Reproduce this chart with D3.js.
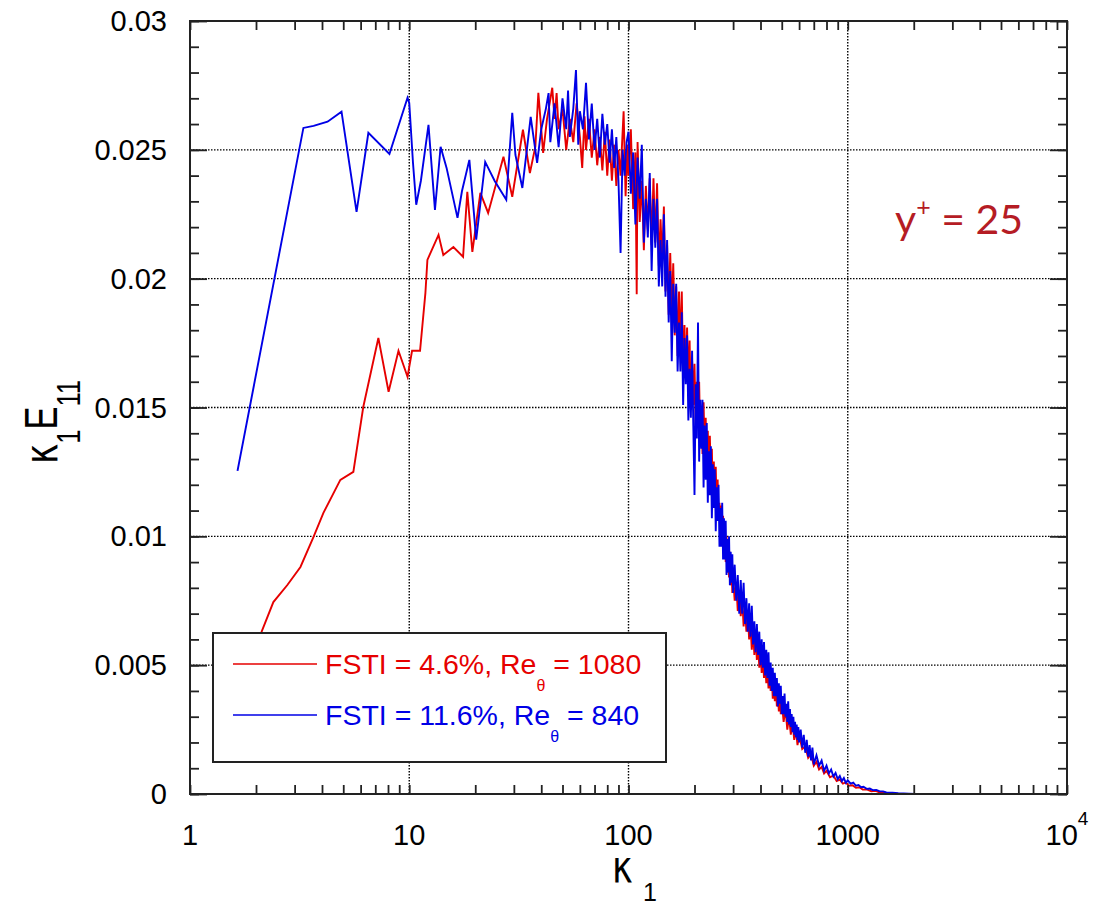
<!DOCTYPE html>
<html>
<head>
<meta charset="utf-8">
<script src="https://cdn.jsdelivr.net/npm/d3@7"></script>
<style>
  body { margin: 0; background: #fff; }
  svg { display: block; font-family: "Liberation Sans", Arial, sans-serif; }
</style>
</head>
<body>
<svg id="chart" width="1097" height="909"></svg>
<script>
// ---- data ----
var kTicks = [1, 10, 100, 1000, 10000]
var kTickLabels = ["1", "10", "100", "1000", "10"]
var eTicks = [0, 0.005, 0.01, 0.015, 0.02, 0.025, 0.03]
var eTickLabels = ["0", "0.005", "0.01", "0.015", "0.02", "0.025", "0.03"]
var gridK = [10, 100, 1000]
var gridE = [0.005, 0.01, 0.015, 0.02, 0.025]

var seriesNames = ["FSTI = 4.6%, Re", "FSTI = 11.6%, Re"]
var seriesRe = ["1080", "840"]

// FSTI = 4.6 %, Re_theta = 1080   [kappa1, kappa1*E11]
var redLow = [
  [1.647, 0.0042], [2.12, 0.00629], [2.40, 0.00745], [2.78, 0.00811], [3.19, 0.00881],
  [3.66, 0.00998], [4.06, 0.01091], [4.85, 0.01219], [5.56, 0.0125], [6.17, 0.01502],
  [7.23, 0.0177], [8.05, 0.01561], [8.93, 0.0172], [9.82, 0.01619], [10.3, 0.0172],
  [11.2, 0.0172], [11.85, 0.01945], [12.1, 0.02073], [13.6, 0.0217], [14.3, 0.02092],
  [15.9, 0.02123], [17.6, 0.02085], [18.4, 0.02337], [19.4, 0.02104], [21.1, 0.02333],
  [22.9, 0.02255], [26.9, 0.02473], [29.5, 0.02318], [33.0, 0.02578], [35.5, 0.0241],
  [37.6, 0.02512], [38.8, 0.02721], [40.8, 0.02488], [42.5, 0.0262], [44.9, 0.02741]
]
var redMid = [
  [46, 0.0262], [47, 0.0272], [48, 0.0258], [50, 0.0266], [52, 0.0250], [54, 0.0262],
  [56, 0.0253], [58, 0.0268], [60, 0.0255], [61.5, 0.0243], [63, 0.0263], [64, 0.0250],
  [66, 0.0262], [68, 0.0247], [70, 0.0258], [72, 0.0244], [74, 0.0255], [76, 0.0242],
  [78, 0.0257], [80, 0.0240], [82, 0.0254], [84, 0.0238], [86, 0.0252], [88, 0.0236],
  [90, 0.0250], [92, 0.0240], [95, 0.0265], [97, 0.0232], [99, 0.0252]
]
var redBand = [
  [100, 0.0240], [102.5, 0.0258], [105, 0.0227], [107.5, 0.0249], [109, 0.0194], [110, 0.0253],
  [112.5, 0.0222], [115, 0.0238], [117.5, 0.0211], [120, 0.0236], [122.5, 0.0219], [125, 0.0239],
  [127.5, 0.0213], [130, 0.0239], [132.5, 0.0214], [135, 0.0237], [137.5, 0.0205], [140, 0.0223],
  [142.5, 0.0207], [145, 0.0228], [147.5, 0.0195], [150, 0.0213], [152.5, 0.0186], [155, 0.0210],
  [157.5, 0.0187], [160, 0.0206], [162.5, 0.0178], [165, 0.0197], [167.5, 0.0170], [170, 0.0195],
  [172.5, 0.0172], [175, 0.0195], [177.5, 0.0162], [180, 0.0182], [182.5, 0.0161], [185, 0.0181],
  [187.5, 0.0159], [190, 0.0176], [192.5, 0.0149], [195, 0.0168], [197.5, 0.0151], [200, 0.0167],
  [202.5, 0.0143], [205, 0.0160], [207.5, 0.0142], [210, 0.0160], [212.5, 0.0136], [215, 0.0150],
  [217.5, 0.0132], [220, 0.0152], [222.5, 0.0132], [225, 0.0146], [227.5, 0.0125], [230, 0.0141],
  [232.5, 0.0123], [235, 0.0139], [237.5, 0.0121], [240, 0.0134], [242.5, 0.0114], [245, 0.0129],
  [247.5, 0.0113], [250, 0.0127], [252.5, 0.0110], [255, 0.0122], [257.5, 0.0107], [260, 0.0113],
  [262.5, 0.0100], [265, 0.0112], [267.5, 0.0097], [270, 0.0108], [272.5, 0.0093], [275, 0.0103],
  [277.5, 0.0090], [280, 0.0100], [282.5, 0.0086], [285, 0.0097], [287.5, 0.0084], [290, 0.0094],
  [292.5, 0.0081], [295, 0.0090], [297.5, 0.0078], [300, 0.0084]
]
var redHigh = [
  [305, 0.0075], [310, 0.0082], [315, 0.0071], [320, 0.0078], [325, 0.0069], [330, 0.0076],
  [335, 0.0065], [340, 0.0072], [345, 0.0063], [350, 0.0070], [355, 0.0060], [360, 0.0066],
  [365, 0.0056], [370, 0.0064], [375, 0.0054], [380, 0.0062], [385, 0.0052], [390, 0.0059],
  [395, 0.0049], [400, 0.0056], [405, 0.0047], [410, 0.0054], [415, 0.0045], [420, 0.0052],
  [425, 0.0043], [430, 0.0050], [435, 0.0041], [440, 0.0048], [445, 0.0040], [450, 0.0046],
  [455, 0.0037], [460, 0.0043], [465, 0.0036], [470, 0.0042], [475, 0.0034], [480, 0.0039],
  [485, 0.0032], [490, 0.0038], [495, 0.0031], [500, 0.0036], [510, 0.0028], [520, 0.0033],
  [530, 0.0025], [540, 0.0030], [550, 0.0023], [560, 0.0028], [570, 0.0021], [580, 0.0025],
  [590, 0.0019], [600, 0.0023], [620, 0.00175], [640, 0.00185], [660, 0.0014], [680, 0.00155],
  [700, 0.0011], [720, 0.00125], [740, 0.00095], [760, 0.00105], [780, 0.0008], [800, 0.0009],
  [830, 0.00065], [860, 0.00072], [890, 0.0005], [920, 0.00056], [950, 0.0004], [980, 0.00045],
  [1010, 0.00032], [1050, 0.00034], [1090, 0.00024], [1130, 0.00026], [1170, 0.00017],
  [1220, 0.00018], [1280, 0.00011], [1340, 0.00012], [1400, 0.00006], [1480, 0.00005],
  [1560, 0.00002], [1620, 0]
]

// FSTI = 11.6 %, Re_theta = 840
var blueLow = [
  [1.647, 0.01254], [3.29, 0.02585], [3.66, 0.02593], [4.24, 0.02609], [4.91, 0.02648],
  [5.75, 0.02259], [6.51, 0.02566], [8.12, 0.02484], [9.82, 0.02702], [10.0, 0.02682],
  [10.4, 0.0245], [10.76, 0.02287], [11.3, 0.0238], [12.24, 0.02597], [13.1, 0.02267],
  [13.9, 0.02512], [14.8, 0.0243], [16.6, 0.02236], [17.4, 0.0234], [18.8, 0.02461],
  [20.2, 0.02151], [22.2, 0.02453], [24.5, 0.0238], [27.7, 0.02306], [29.5, 0.02644],
  [30.5, 0.0248], [32.8, 0.02352], [35.8, 0.02628], [38.3, 0.02449], [40, 0.0258]
]
var blueMid = [
  [42, 0.0266], [43.2, 0.0272], [44, 0.0253], [46, 0.0268], [48, 0.0251], [50, 0.0270],
  [52, 0.0258], [53, 0.0273], [54, 0.0255], [56, 0.0266], [57.6, 0.0281], [59, 0.0252],
  [60, 0.0265], [62, 0.0258], [64, 0.0276], [66, 0.0254], [68, 0.0268], [70, 0.0250],
  [72, 0.0262], [74, 0.0247], [76, 0.0264], [78, 0.0252], [80, 0.0260], [82, 0.0245],
  [84, 0.0258], [86, 0.0243], [88, 0.0255], [90, 0.0238], [92, 0.0210], [94, 0.0250],
  [96, 0.0240], [98, 0.0253]
]
var blueBand = [
  [100, 0.0257], [102.5, 0.0233], [105, 0.0249], [107.5, 0.0221], [110, 0.0247], [112.5, 0.0231],
  [115, 0.0252], [117.5, 0.0214], [120, 0.0231], [122.5, 0.0216], [125, 0.0241], [127.5, 0.0203],
  [130, 0.0231], [132.5, 0.0212], [135, 0.0231], [137.5, 0.0197], [140, 0.0215], [142.5, 0.0197],
  [145, 0.0225], [147.5, 0.0193], [150, 0.0215], [152.5, 0.0183], [155, 0.0203], [157.5, 0.0168],
  [160, 0.0198], [162.5, 0.0179], [165, 0.0198], [167.5, 0.0164], [170, 0.0183], [172.5, 0.0164],
  [175, 0.0187], [177.5, 0.0151], [180, 0.0177], [182.5, 0.0159], [185, 0.0178], [187.5, 0.0145],
  [190, 0.0165], [192.5, 0.0146], [195, 0.0172], [197.5, 0.0143], [200, 0.0116], [202.5, 0.0159],
  [205, 0.0138], [207.5, 0.0183], [210, 0.0129], [212.5, 0.0153], [215, 0.0134], [217.5, 0.0153],
  [220, 0.0119], [222.5, 0.0143], [225, 0.0122], [227.5, 0.0144], [230, 0.0113], [232.5, 0.0133],
  [235, 0.0116], [237.5, 0.0135], [240, 0.0107], [242.5, 0.0128], [245, 0.0111], [247.5, 0.0126],
  [250, 0.0102], [252.5, 0.0119], [255, 0.0106], [257.5, 0.0120], [260, 0.0096], [262.5, 0.0111],
  [265, 0.0096], [267.5, 0.0113], [270, 0.0091], [272.5, 0.0107], [275, 0.0091], [277.5, 0.0106],
  [280, 0.0085], [282.5, 0.0099], [285, 0.0086], [287.5, 0.0100], [290, 0.0081], [292.5, 0.0094],
  [295, 0.0082], [297.5, 0.0093], [300, 0.0078]
]
var blueHigh = [
  [305, 0.0089], [310, 0.0075], [315, 0.0085], [320, 0.0070], [325, 0.0083], [330, 0.0070],
  [335, 0.0082], [340, 0.0066], [345, 0.0076], [350, 0.0063], [355, 0.0074], [360, 0.0061],
  [365, 0.0073], [370, 0.0058], [375, 0.0067], [380, 0.0055], [385, 0.0066], [390, 0.0054],
  [395, 0.0063], [400, 0.0050], [405, 0.0060], [410, 0.0049], [415, 0.0059], [420, 0.0046],
  [425, 0.0056], [430, 0.0045], [435, 0.0055], [440, 0.0042], [445, 0.0051], [450, 0.0040],
  [455, 0.0049], [460, 0.0038], [465, 0.0047], [470, 0.0038], [475, 0.0045], [480, 0.0034],
  [485, 0.0043], [490, 0.0035], [495, 0.0042], [500, 0.0031], [505, 0.0038], [510, 0.0031],
  [515, 0.0039], [520, 0.0030], [525, 0.0035], [530, 0.0028], [535, 0.0036], [540, 0.0027],
  [545, 0.0033], [550, 0.0026], [555, 0.0031], [560, 0.0024], [565, 0.0030], [570, 0.0023],
  [575, 0.0028], [580, 0.0022], [585, 0.0027], [590, 0.0021], [595, 0.0026], [600, 0.0020],
  [610, 0.0025], [620, 0.0018], [630, 0.0023], [640, 0.0016], [650, 0.0021], [660, 0.00145],
  [670, 0.0019], [680, 0.0013], [690, 0.0018], [700, 0.00115], [720, 0.0015], [740, 0.0011],
  [760, 0.0013], [780, 0.0009], [800, 0.0011], [820, 0.0008], [840, 0.00095], [860, 0.00068],
  [880, 0.00082], [900, 0.00058], [920, 0.0007], [940, 0.0005], [960, 0.00062], [980, 0.00043],
  [1000, 0.00053], [1030, 0.0004], [1060, 0.00044], [1090, 0.00032], [1120, 0.00035],
  [1150, 0.00026], [1180, 0.00028], [1220, 0.0002], [1260, 0.00021], [1300, 0.00015],
  [1350, 0.00016], [1400, 0.0001], [1450, 0.0001], [1500, 0.00006], [1600, 0.00005],
  [1700, 0.00003], [1800, 0.00002], [1900, 0.00001], [2040, 0]
]

var red = redLow.concat(redMid, redBand, redHigh)
var blue = blueLow.concat(blueMid, blueBand, blueHigh)
var colRed = "#e60000", colBlue = "#0000e6"

///////
var svg = d3.select("#chart")
var pLeft = 190, pRight = 1067, pTop = 21, pBottom = 794

var x = d3.scaleLog().domain([1, 1e4]).range([pLeft, pRight])
var y = d3.scaleLinear().domain([0, 0.03]).range([pBottom, pTop])

// dotted grid
svg.append("g").selectAll("line").data(gridK).enter().append("line")
  .attr("x1", d => x(d)).attr("x2", d => x(d))
  .attr("y1", pTop).attr("y2", pBottom)
  .attr("stroke", "#000").attr("stroke-width", 1.4).attr("stroke-dasharray", "1.5,1.5")
svg.append("g").selectAll("line").data(gridE).enter().append("line")
  .attr("y1", d => y(d)).attr("y2", d => y(d))
  .attr("x1", pLeft).attr("x2", pRight)
  .attr("stroke", "#000").attr("stroke-width", 1.4).attr("stroke-dasharray", "1.5,1.5")

// curves
var line = d3.line().x(d => x(d[0])).y(d => y(d[1]))
svg.append("path").datum(red).attr("d", line)
  .attr("fill", "none").attr("stroke", colRed).attr("stroke-width", 1.9)
svg.append("path").datum(blue).attr("d", line)
  .attr("fill", "none").attr("stroke", colBlue).attr("stroke-width", 1.9)

// ticks, inward on all four sides
var minorK = x.ticks()
var minorE = y.ticks(30)
function tickGroup(axis, tx, ty) {
  var g = svg.append("g").attr("transform", "translate(" + tx + "," + ty + ")").call(axis)
  g.select(".domain").remove()
  g.selectAll("line").attr("stroke", "#222").attr("stroke-width", 1.8)
  g.selectAll("text").remove()
}
tickGroup(d3.axisBottom(x).tickValues(minorK).tickSize(-9), 0, pBottom)
tickGroup(d3.axisTop(x).tickValues(minorK).tickSize(-9), 0, pTop)
tickGroup(d3.axisLeft(y).tickValues(minorE).tickSize(-9), pLeft, 0)
tickGroup(d3.axisRight(y).tickValues(minorE).tickSize(-9), pRight, 0)
tickGroup(d3.axisLeft(y).tickValues(eTicks).tickSize(-17), pLeft, 0)
tickGroup(d3.axisRight(y).tickValues(eTicks).tickSize(-17), pRight, 0)

// frame
svg.append("rect").attr("x", pLeft).attr("y", pTop)
  .attr("width", pRight - pLeft).attr("height", pBottom - pTop)
  .attr("fill", "none").attr("stroke", "#222").attr("stroke-width", 2)

// tick labels
svg.append("g").selectAll("text").data(eTicks).enter().append("text")
  .attr("x", 167).attr("y", d => y(d) + 10)
  .attr("text-anchor", "end").attr("font-size", 29).attr("fill", "#000")
  .text((d, i) => eTickLabels[i])

var xl = svg.append("g").selectAll("text").data(kTicks).enter().append("text")
  .attr("x", d => x(d)).attr("y", 845)
  .attr("text-anchor", "middle").attr("font-size", 29).attr("fill", "#000")
xl.append("tspan").text((d, i) => kTickLabels[i])
xl.filter(d => d === 1e4).append("tspan")
  .attr("dy", -20).attr("font-size", 19).text("4")

// axis titles (tall, narrow glyphs as in the original)
svg.append("text")
  .attr("transform", "translate(612,882) scale(0.8,1)")
  .attr("font-family", "'DejaVu Sans', sans-serif")
  .attr("font-size", 44).attr("fill", "#000")
  .text("\u03BA")
svg.append("text")
  .attr("x", 643).attr("y", 901)
  .attr("font-size", 25).attr("fill", "#000")
  .text("1")

var yt = svg.append("text")
  .attr("transform", "translate(57,464) rotate(-90) scale(0.75,1)")
  .attr("font-size", 46).attr("fill", "#000")
yt.append("tspan").attr("font-family", "'DejaVu Sans', sans-serif").text("\u03BA")
yt.append("tspan").attr("dy", 23).attr("font-size", 34).text("1")
yt.append("tspan").attr("dy", -23).attr("font-size", 46).text("E")
yt.append("tspan").attr("dy", 23).attr("font-size", 34).text("11")

// annotation
var ann = svg.append("text").attr("x", 895).attr("y", 234)
  .attr("font-family", "Lato, 'Open Sans', sans-serif")
  .attr("font-size", 41).attr("fill", "#b51c24")
ann.append("tspan").text("y")
ann.append("tspan").attr("dy", -18).attr("font-size", 25).text("+")
ann.append("tspan").attr("dy", 18).text(" = 25")

// legend
var lg = svg.append("g")
lg.append("rect").attr("x", 213).attr("y", 633).attr("width", 453).attr("height", 129)
  .attr("fill", "#fff").attr("stroke", "#222").attr("stroke-width", 2)
var legendRows = [{c: colRed, yy: 664}, {c: colBlue, yy: 715}]
legendRows.forEach(function (r, i) {
  lg.append("line").attr("x1", 233).attr("x2", 317).attr("y1", r.yy).attr("y2", r.yy)
    .attr("stroke", r.c).attr("stroke-width", 1.6)
  var t = lg.append("text").attr("x", 325).attr("y", r.yy + 10)
    .attr("font-size", 28.5).attr("fill", r.c)
  t.append("tspan").text(seriesNames[i])
  t.append("tspan").attr("dy", 17).attr("font-size", 16).text("\u03B8")
  t.append("tspan").attr("dy", -17).text(" = " + seriesRe[i])
})
</script>
</body>
</html>
